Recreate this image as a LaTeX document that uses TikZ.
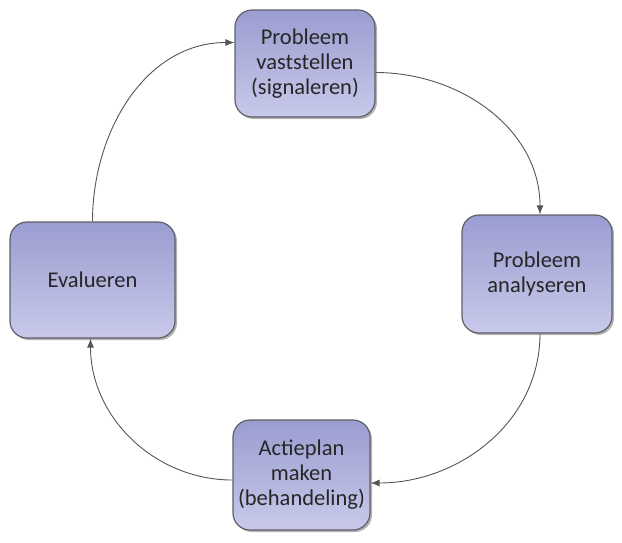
\documentclass[tikz,border=0pt]{standalone}
\usepackage{fontspec}
\setmainfont{Carlito}
\usetikzlibrary{arrows.meta,shadows}
\definecolor{boxtop}{RGB}{154,157,208}
\definecolor{boxbottom}{RGB}{200,201,234}
\definecolor{boxline}{RGB}{95,95,105}
\definecolor{arrowgray}{RGB}{85,85,85}

\begin{document}
\begin{tikzpicture}[x=1pt,y=-1pt,
  stap/.style={draw=boxline, line width=1.2pt, rounded corners=17pt,
    top color=boxtop, bottom color=boxbottom, align=center,
    font=\fontsize{22.5}{25}\selectfont, text=black!85,
    drop shadow={shadow xshift=2pt, shadow yshift=-2pt, fill=black!50, opacity=0.6}},
  pijl/.style={draw=arrowgray, line width=0.9pt, -{Latex[length=9pt,width=7pt]}}]
\useasboundingbox (0,0) rectangle (622,542);
\node[stap, minimum width=140pt, minimum height=107pt] (vaststellen) at (305,63.5) {Probleem\\vaststellen\\(signaleren)};
\node[stap, minimum width=150pt, minimum height=118pt] (analyseren) at (537,274) {Probleem\\analyseren};
\node[stap, minimum width=137pt, minimum height=110pt] (actieplan) at (301.5,475) {Actieplan\\maken\\(behandeling)};
\node[stap, minimum width=165pt, minimum height=116pt] (evalueren) at (92.5,280) {Evalueren};
\draw[pijl] ([yshift=-9pt]vaststellen.east) to[out=0, in=90] ([xshift=3pt]analyseren.north);
\draw[pijl] ([xshift=3pt]analyseren.south) to[out=-90, in=0] ([yshift=-8pt]actieplan.east);
\draw[pijl] ([yshift=-5pt]actieplan.west) to[out=180, in=-90] ([xshift=-2pt]evalueren.south);
\draw[pijl] (evalueren.north) to[out=90, in=180] ([yshift=21pt]vaststellen.west);
\end{tikzpicture}
\end{document}
